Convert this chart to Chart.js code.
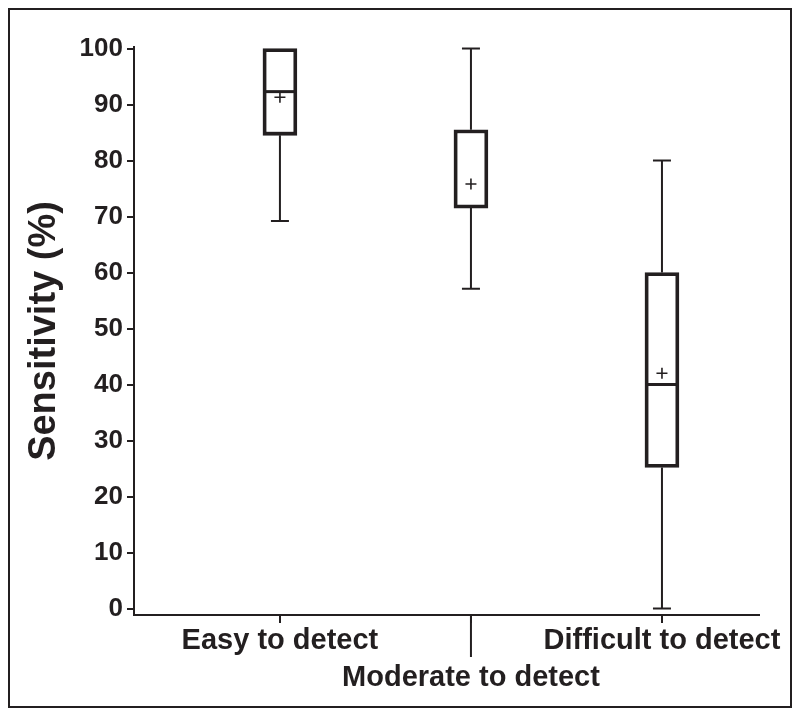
<!DOCTYPE html>
<html>
<head>
<meta charset="utf-8">
<script src="https://cdn.jsdelivr.net/npm/chart.js@4"></script>
<style>
  html, body { margin: 0; padding: 0; background: #ffffff; }
  #wrap { width: 800px; height: 717px; position: relative; }
</style>
</head>
<body>
<div id="wrap"><canvas id="c" width="800" height="717"></canvas></div>
<script>
// ---- data ----
const categories = ['Easy to detect', 'Moderate to detect', 'Difficult to detect'];
const mins    = [69.2, 57.1, 0];
const q1s     = [84.5, 71.5, 25.2];
const medians = [92.3, null, 40];
const q3s     = [100, 85.5, 60];
const maxs    = [100, 100, 80];
const means   = [91.3, 75.8, 42];
const yTicks  = [0, 10, 20, 30, 40, 50, 60, 70, 80, 90, 100];
const yTitle  = 'Sensitivity (%)';

const INK = '#231f20';
const FONT = "'Liberation Sans', Arial, Helvetica, sans-serif";

const boxData = categories.map((c, i) => ({ x: i, y: [q1s[i], q3s[i]] }));
const whiskerData = [];
categories.forEach((c, i) => {
  whiskerData.push({ x: i, y: mins[i] }, { x: i, y: q1s[i] }, { x: i, y: null });
  whiskerData.push({ x: i, y: q3s[i] }, { x: i, y: maxs[i] }, { x: i, y: null });
});
const capData = [];
categories.forEach((c, i) => {
  capData.push({ x: i, y: mins[i] });
  if (maxs[i] > q3s[i]) capData.push({ x: i, y: maxs[i] });
});
const medianData = categories.map((c, i) => medians[i] == null ? null : ({ x: i, y: medians[i] })).filter(Boolean);
const meanData = categories.map((c, i) => ({ x: i, y: means[i] }));

const frame = {
  id: 'frame',
  beforeDraw(chart) {
    const ctx = chart.ctx;
    ctx.save();
    ctx.fillStyle = '#ffffff';
    ctx.fillRect(0, 0, chart.width, chart.height);
    ctx.strokeStyle = INK;
    ctx.lineWidth = 2;
    ctx.strokeRect(9, 9, 782, 698);
    ctx.restore();
  },
  afterDraw(chart) {
    // long tick connecting the staggered middle label
    const xs = chart.scales.x;
    const px = xs.getPixelForValue(1);
    const ctx = chart.ctx;
    ctx.save();
    ctx.strokeStyle = INK;
    ctx.lineWidth = 2;
    ctx.beginPath();
    ctx.moveTo(px, chart.chartArea.bottom);
    ctx.lineTo(px, chart.chartArea.bottom + 42);
    ctx.stroke();
    ctx.restore();
  }
};

new Chart(document.getElementById('c'), {
  type: 'bar',
  data: {
    datasets: [
      {
        type: 'line', data: meanData, showLine: false,
        pointStyle: 'cross', pointRadius: 5.5, pointBorderWidth: 1.6,
        pointBorderColor: INK, order: 0
      },
      {
        type: 'line', data: medianData, showLine: false,
        pointStyle: 'line', pointRadius: 15, pointBorderWidth: 3,
        pointBorderColor: INK, order: 1
      },
      {
        type: 'bar', data: boxData, backgroundColor: '#ffffff',
        borderColor: INK, borderWidth: 3.8, borderSkipped: false,
        barThickness: 34, order: 2
      },
      {
        type: 'line', data: whiskerData, spanGaps: false,
        borderColor: INK, borderWidth: 2, pointRadius: 0, order: 3
      },
      {
        type: 'line', data: capData, showLine: false,
        pointStyle: 'line', pointRadius: 9, pointBorderWidth: 2,
        pointBorderColor: INK, order: 3
      }
    ]
  },
  options: {
    responsive: false,
    animation: false,
    events: [],
    layout: { padding: { left: 18, right: 41, top: 47, bottom: 0 } },
    plugins: { legend: { display: false }, tooltip: { enabled: false } },
    scales: {
      x: {
        type: 'linear',
        min: -0.764, max: 2.508,
        offset: false,
        afterBuildTicks(s) { s.ticks = categories.map((c, i) => ({ value: i })); },
        afterFit(s) { s.height = 102; },
        ticks: {
          autoSkip: false, maxRotation: 0, minRotation: 0, padding: 0,
          color: INK,
          font: { family: FONT, weight: 'bold', size: 29, lineHeight: 1.27 },
          callback(v) { return v === 1 ? ['', categories[v]] : categories[v]; }
        },
        grid: { offset: false, drawOnChartArea: false, color: INK, lineWidth: 2, tickLength: 8 },
        border: { display: true, color: INK, width: 2 }
      },
      y: {
        type: 'linear',
        min: -1.16, max: 100.27,
        afterBuildTicks(s) { s.ticks = yTicks.map(v => ({ value: v })); },
        afterFit(s) { s.width = 116; },
        ticks: {
          padding: 4, color: INK,
          font: { family: FONT, weight: 'bold', size: 26 }
        },
        grid: { drawOnChartArea: false, color: INK, lineWidth: 2, tickLength: 7 },
        border: { display: true, color: INK, width: 2 },
        title: {
          display: true, text: yTitle, color: INK,
          font: { family: FONT, weight: 'bold', size: 38, lineHeight: 1.2 },
          padding: { top: 4, bottom: 4 }
        }
      }
    }
  },
  plugins: [frame]
});
</script>
</body>
</html>
